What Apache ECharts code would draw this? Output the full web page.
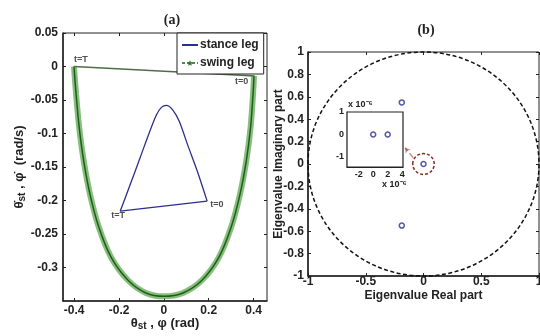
<!DOCTYPE html>
<html>
<head>
<meta charset="utf-8">
<script src="https://cdn.jsdelivr.net/npm/echarts@6/dist/echarts.min.js"></script>
<style>
html,body{margin:0;padding:0;background:#fff;}
#chart{width:540px;height:336px;}
</style>
</head>
<body>
<div id="chart"></div>
<script>
// (a) phase portrait
var swingTheta=[0.402,0.398,0.387,0.368,0.340,0.300,0.245,0.170,0.085,0.0,-0.080,-0.160,-0.235,-0.290,-0.330,-0.358,-0.378,-0.392,-0.401];
var swingRate=[-0.014,-0.040,-0.090,-0.140,-0.190,-0.240,-0.285,-0.319,-0.338,-0.343,-0.338,-0.319,-0.285,-0.240,-0.190,-0.140,-0.090,-0.040,0.0];
var swingImpactTheta=[-0.401,0.405];
var swingImpactRate=[0.0,-0.014];

var stanceTheta=[0.193,0.150,0.106,0.069,0.040,0.011,-0.011,-0.033,-0.063,-0.107,-0.151,-0.195];
var stanceRate=[-0.201,-0.157,-0.117,-0.082,-0.065,-0.058,-0.061,-0.072,-0.097,-0.137,-0.177,-0.216];
var stanceImpactTheta=[-0.195,0.193];
var stanceImpactRate=[-0.216,-0.201];

var markTheta=[-0.401,0.405,-0.195,0.193];
var markRate=[0.0,-0.014,-0.216,-0.201];
var markText=['t=T','t=0','t=T','t=0'];
var markPos=['top','bottom','bottom','right'];

var aXTicks=[-0.4,-0.2,0,0.2,0.4];
var aYTicks=[-0.3,-0.25,-0.2,-0.15,-0.1,-0.05,0,0.05];

// (b) eigenvalues
var eigReal=[-0.188,-0.188,0];
var eigImag=[0.55,-0.55,0];
var unitCircle=[[0,0,1]];
var zoomCircle=[[0,0,0.093]];
var arrowFrom=[-0.088,0.055];
var arrowTo=[-0.16,0.145];

// inset, units of 1e-6
var insetReal=[0,2];
var insetImag=[0,0];
var insetXTicks=[-2,0,2,4];
var insetYTicks=[-1,0,1];

var ink='#222';
var navy='#2b2f8c';
var green='#2f7a28';
var rust='#8b2a1e';
var font='"Liberation Sans", Arial, sans-serif';

function pairs(xs,ys){return xs.map(function(x,i){return [x,ys[i]];});}

function ellipse(stroke,dash){
  return function(params,api){
    var c=api.coord([api.value(0),api.value(1)]);
    var s=api.size([api.value(2),api.value(2)]);
    return {type:'ellipse',shape:{cx:c[0],cy:c[1],rx:s[0],ry:s[1]},
      style:{fill:'none',stroke:stroke,lineWidth:1.5,lineDash:dash}};
  };
}

var tickLab={fontFamily:font,fontWeight:'bold',fontSize:12,color:ink};
var mainLine={show:true,onZero:false,lineStyle:{color:ink,width:1.5}};
var hiddenLine={show:false,onZero:false};
var subRich={
  t:{fontFamily:font,fontWeight:'bold',fontSize:13,color:ink},
  s:{fontFamily:font,fontWeight:'bold',fontSize:10,color:ink,padding:[6,0,0,0]}
};

var chart=echarts.init(document.getElementById('chart'),null,{renderer:'canvas'});
chart.setOption({
  animation:false,
  backgroundColor:'#fff',
  title:[
    {text:'(a)',left:167,top:8,textAlign:'center',textStyle:{fontFamily:'"Liberation Serif", serif',fontWeight:'bold',fontSize:14,color:ink}},
    {text:'(b)',left:421,top:18,textAlign:'center',textStyle:{fontFamily:'"Liberation Serif", serif',fontWeight:'bold',fontSize:14,color:ink}}
  ],
  legend:{
    data:[
      {name:'stance leg',itemStyle:{opacity:0}},
      {name:'swing leg',lineStyle:{type:[3,2],width:1.5}}
    ],
    orient:'vertical',left:177,top:33,
    padding:[6,5,5,4],itemGap:6,itemWidth:16,itemHeight:7,
    borderColor:ink,borderWidth:1,backgroundColor:'#fff',
    textStyle:{fontFamily:font,fontWeight:'bold',fontSize:12,color:ink,padding:[0,0,0,-3]},
    selectedMode:false,z:10
  },
  grid:[
    {left:63,top:33,width:204,height:268,show:true,borderColor:ink,borderWidth:1,outerBoundsMode:'none'},
    {left:308,top:52,width:231,height:224,show:true,borderColor:ink,borderWidth:1,outerBoundsMode:'none'},
    {left:347,top:112,width:56,height:55,show:true,borderColor:ink,borderWidth:1.2,backgroundColor:'#fff',outerBoundsMode:'none',z:5}
  ],
  xAxis:[
    {gridIndex:0,type:'value',min:-0.45,max:0.46,
      axisLine:mainLine,
      axisTick:{inside:true,length:3,customValues:aXTicks,lineStyle:{color:ink}},
      axisLabel:Object.assign({margin:4,customValues:aXTicks},tickLab),
      splitLine:{show:false},
      name:'{t|θ}{s|st}{t| , φ (rad)}',nameLocation:'middle',nameGap:14,nameMoveOverlap:false,
      nameTextStyle:{rich:subRich}},
    {gridIndex:0,type:'value',position:'top',min:-0.45,max:0.46,
      axisLine:hiddenLine,axisTick:{inside:true,length:3,customValues:aXTicks,lineStyle:{color:ink}},
      axisLabel:{show:false},splitLine:{show:false}},
    {gridIndex:1,type:'value',min:-1,max:1,interval:0.5,
      axisLine:mainLine,
      axisTick:{inside:true,length:3,lineStyle:{color:ink}},
      axisLabel:Object.assign({margin:0},tickLab),
      splitLine:{show:false},
      name:'Eigenvalue Real part',nameLocation:'middle',nameGap:14,nameMoveOverlap:false,
      nameTextStyle:{fontFamily:font,fontWeight:'bold',fontSize:12,color:ink}},
    {gridIndex:1,type:'value',position:'top',min:-1,max:1,interval:0.5,
      axisLine:hiddenLine,axisTick:{inside:true,length:3,lineStyle:{color:ink}},
      axisLabel:{show:false},splitLine:{show:false}},
    {gridIndex:2,type:'value',min:-3.6,max:4.1,
      axisLine:{show:true,onZero:false,lineStyle:{color:ink,width:1.2}},
      axisTick:{inside:true,length:2,customValues:insetXTicks,lineStyle:{color:ink}},
      axisLabel:{margin:3,customValues:insetXTicks,fontFamily:font,fontWeight:'bold',fontSize:9,color:ink},
      splitLine:{show:false}}
  ],
  yAxis:[
    {gridIndex:0,type:'value',min:-0.35,max:0.05,
      axisLine:mainLine,
      axisTick:{inside:true,length:3,customValues:aYTicks,lineStyle:{color:ink}},
      axisLabel:Object.assign({margin:5,customValues:aYTicks},tickLab),
      splitLine:{show:false},
      name:'{t|θ̇}{s|st}{t| , φ̇  (rad/s)}',nameLocation:'middle',nameGap:36,nameMoveOverlap:false,
      nameTextStyle:{rich:subRich}},
    {gridIndex:0,type:'value',position:'right',min:-0.35,max:0.05,
      axisLine:hiddenLine,axisTick:{inside:true,length:3,customValues:aYTicks,lineStyle:{color:ink}},
      axisLabel:{show:false},splitLine:{show:false}},
    {gridIndex:1,type:'value',min:-1,max:1,interval:0.2,
      axisLine:mainLine,
      axisTick:{inside:true,length:3,lineStyle:{color:ink}},
      axisLabel:Object.assign({margin:4},tickLab),
      splitLine:{show:false},
      name:'Eigenvalue Imaginary part',nameLocation:'middle',nameGap:23,nameMoveOverlap:false,
      nameTextStyle:{fontFamily:font,fontWeight:'bold',fontSize:12,color:ink}},
    {gridIndex:1,type:'value',position:'right',min:-1,max:1,interval:0.2,
      axisLine:hiddenLine,axisTick:{inside:true,length:3,lineStyle:{color:ink}},
      axisLabel:{show:false},splitLine:{show:false}},
    {gridIndex:2,type:'value',min:-1.45,max:1,
      axisLine:{show:true,onZero:false,lineStyle:{color:ink,width:1.2}},
      axisTick:{inside:true,length:2,customValues:insetYTicks,lineStyle:{color:ink}},
      axisLabel:{margin:3,customValues:insetYTicks,fontFamily:font,fontWeight:'bold',fontSize:9,color:ink},
      splitLine:{show:false}}
  ],
  graphic:[
    {type:'text',left:348,top:100,z:20,style:{text:'x 10⁻⁶',fontFamily:font,fontWeight:'bold',fontSize:9,fill:ink}},
    {type:'text',left:382,top:180,z:20,style:{text:'x 10⁻⁶',fontFamily:font,fontWeight:'bold',fontSize:9,fill:ink}}
  ],
  series:[
    // swing leg: wide pale band standing in for the dense star markers
    {name:'swing band',type:'line',xAxisIndex:0,yAxisIndex:0,data:pairs(swingTheta,swingRate),
      smooth:0.3,symbol:'none',lineStyle:{color:'#5fa852',width:6,opacity:0.75},z:2},
    {name:'swing leg',type:'line',xAxisIndex:0,yAxisIndex:0,data:pairs(swingTheta,swingRate),
      smooth:0.3,symbol:'path://M0,-10L2.9,-4L9.5,-3.1L4.7,1.5L5.9,8.1L0,5L-5.9,8.1L-4.7,1.5L-9.5,-3.1L-2.9,-4Z',
      symbolSize:6,showSymbol:false,itemStyle:{color:green},lineStyle:{color:'#1f5c1b',width:1.5},z:3},
    {name:'swing impact',type:'line',xAxisIndex:0,yAxisIndex:0,data:pairs(swingImpactTheta,swingImpactRate),
      symbol:'none',lineStyle:{color:'#4d6e47',width:1.5},z:3},
    {name:'stance leg',type:'line',xAxisIndex:0,yAxisIndex:0,data:pairs(stanceTheta,stanceRate),
      smooth:0.3,symbol:'none',itemStyle:{color:navy},lineStyle:{color:navy,width:1.3},z:4},
    {name:'stance impact',type:'line',xAxisIndex:0,yAxisIndex:0,data:pairs(stanceImpactTheta,stanceImpactRate),
      symbol:'none',lineStyle:{color:navy,width:1.3},z:4},
    {name:'marks',type:'scatter',xAxisIndex:0,yAxisIndex:0,symbolSize:0,z:6,
      data:markTheta.map(function(x,i){
        var off=[[7,1],[-13,-2],[-2,-3],[0,3]][i];
        return {value:[x,markRate[i]],label:{show:true,formatter:markText[i],position:markPos[i],distance:3,offset:off}};
      }),
      label:{fontFamily:font,fontWeight:'bold',fontSize:9,color:ink}},
    // (b)
    {name:'unit circle',type:'custom',xAxisIndex:2,yAxisIndex:2,data:unitCircle,
      renderItem:ellipse('#111',[4,2.5]),z:2},
    {name:'zoom ring',type:'custom',xAxisIndex:2,yAxisIndex:2,data:zoomCircle,
      renderItem:ellipse(rust,[3,2]),z:3},
    {name:'zoom arrow',type:'lines',coordinateSystem:'cartesian2d',xAxisIndex:2,yAxisIndex:2,
      data:[{coords:[arrowFrom,arrowTo]}],symbol:['none','arrow'],symbolSize:5,
      lineStyle:{color:rust,width:1.5,type:'dashed'},z:3},
    {name:'eigenvalues',type:'scatter',xAxisIndex:2,yAxisIndex:2,data:pairs(eigReal,eigImag),
      symbol:'circle',symbolSize:5,itemStyle:{color:'#fff',borderColor:navy,borderWidth:1.5},z:4},
    {name:'inset eigenvalues',type:'scatter',xAxisIndex:4,yAxisIndex:4,data:pairs(insetReal,insetImag),
      symbol:'circle',symbolSize:5,itemStyle:{color:'#fff',borderColor:navy,borderWidth:1.5},z:6}
  ]
});
</script>
</body>
</html>
